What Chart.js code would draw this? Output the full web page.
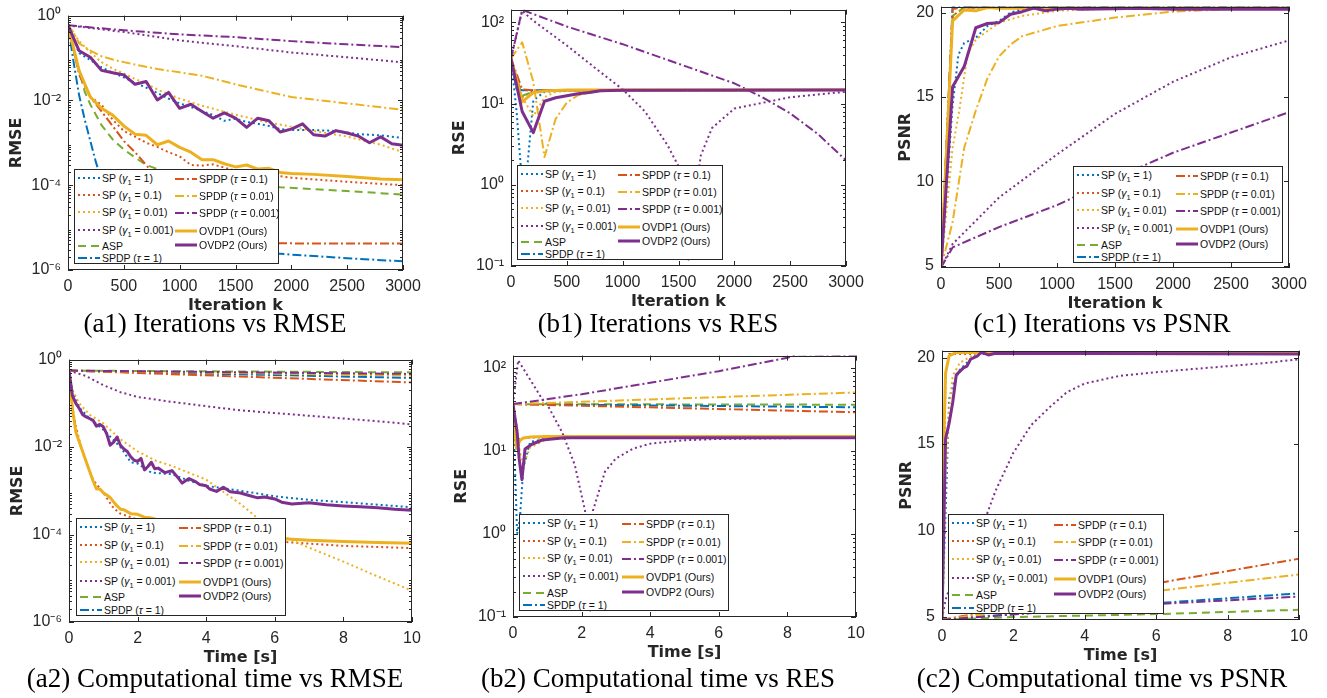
<!DOCTYPE html>
<html>
<head>
<meta charset="utf-8">
<script src="https://cdn.jsdelivr.net/npm/chart.js@4.4.1/dist/chart.umd.min.js"></script>
<style>
    body { margin: 0; width: 1327px; height: 698px; overflow: hidden; position: relative; background: #fff; font-family: 'Liberation Sans', Arial, sans-serif; }
    .panel { position: absolute; }
    .legend { position: absolute; background: #fff; border: 1px solid #262626; box-sizing: border-box; font-size: 10.5px; color: #111; z-index: 2; }
    .item { position: absolute; white-space: nowrap; height: 12px; line-height: 12px; display: flex; align-items: center; }
    .item svg { margin-right: 2px; flex: none; }
    .item sub { font-size: 7.5px; vertical-align: -3px; line-height: 0; }
    .caption { position: absolute; font-family: 'Liberation Serif', 'Times New Roman', serif; font-size: 27px; line-height: 27px; white-space: nowrap; transform: translateX(-50%); color: #000; }
</style>
</head>
<body>
<script>
// ---- tick labels / axis values ----
var iterTicks = [0, 500, 1000, 1500, 2000, 2500, 3000];
var timeTicks = [0, 2, 4, 6, 8, 10];
var rmseTicks = [1e-6, 1e-4, 1e-2, 1];
var rseTicks = [0.1, 1, 10, 100];
var psnrTicks = [5, 10, 15, 20];

// ---- series (legend order) ----
var seriesNames = ['SP (γ1 = 1)', 'SP (γ1 = 0.1)', 'SP (γ1 = 0.01)', 'SP (γ1 = 0.001)', 'ASP', 'SPDP (τ = 1)',
    'SPDP (τ = 0.1)', 'SPDP (τ = 0.01)', 'SPDP (τ = 0.001)', 'OVDP1 (Ours)', 'OVDP2 (Ours)'];
var seriesHtml = ['SP (<i>γ</i><sub>1</sub> = 1)', 'SP (<i>γ</i><sub>1</sub> = 0.1)', 'SP (<i>γ</i><sub>1</sub> = 0.01)',
    'SP (<i>γ</i><sub>1</sub> = 0.001)', 'ASP', 'SPDP (<i>τ</i> = 1)', 'SPDP (<i>τ</i> = 0.1)', 'SPDP (<i>τ</i> = 0.01)',
    'SPDP (<i>τ</i> = 0.001)', 'OVDP1 (Ours)', 'OVDP2 (Ours)'];
var seriesColors = ['#0072BD', '#D95319', '#EDB120', '#7E2F8E', '#77AC30', '#0072BD', '#D95319', '#EDB120', '#7E2F8E', '#EDB120', '#7E2F8E'];
var seriesStyles = ['dot', 'dot', 'dot', 'dot', 'dash', 'dashdot', 'dashdot', 'dashdot', 'dashdot', 'solid', 'solid'];

// ---- (a1) RMSE vs iteration ----
var a1_sp1 = [[0,.59],[100,.13],[200,.09],[300,.06],[400,.045],[500,.035],[600,.026],[700,.02],[800,.015],[900,.011],[1000,.0085],[1100,.007],[1200,.0056],[1300,.0045],[1400,.0033],[1500,.0037],[1600,.0031],[1700,.0028],[1800,.0025],[1900,.0021],[2000,.002],[2200,.002],[2400,.0019],[2600,.0016],[2800,.0015],[3000,.0013]];
var a1_sp01 = [[0,.59],[100,.05],[200,.012],[300,.0079],[400,.0035],[500,.0019],[600,.0014],[700,.001],[800,.0008],[900,.0006],[1000,.00048],[1100,.0003],[1200,.00029],[1300,.00031],[1400,.00026],[1500,.00022],[1700,.00019],[2000,.00015],[2500,.00012],[3000,.0001]];
var a1_sp001 = [[0,.59],[100,.25],[200,.135],[300,.08],[400,.056],[500,.043],[600,.032],[700,.025],[800,.018],[900,.014],[1000,.011],[1200,.0075],[1500,.0046],[1800,.003],[2000,.0024],[2200,.0019],[2500,.0014],[2800,.0009],[3000,.0006]];
var a1_sp0001 = [[0,.59],[500,.41],[1000,.26],[1500,.19],[2000,.135],[2500,.104],[3000,.079]];
var a1_asp = [[0,.59],[50,.15],[100,.05],[150,.016],[200,.008],[300,.0026],[400,.0012],[500,.0007],[600,.00045],[700,.0003],[800,.00024],[1000,.00018],[1500,.00012],[1900,.00009],[2500,.000073],[3000,.00006]];
var a1_spdp1 = [[0,.59],[50,.08],[100,.013],[150,.0035],[200,.0011],[250,.00035],[300,.00013],[400,.00004],[600,.000015],[1000,.000006],[1400,.0000035],[1800,.0000025],[2500,.0000019],[3000,.0000016]];
var a1_spdp01 = [[0,.59],[100,.04],[200,.012],[300,.0055],[400,.0025],[500,.0011],[600,.0006],[700,.0003],[800,.00014],[1000,.00004],[1200,.000015],[1500,.000006],[1800,.0000043],[2200,.0000042],[3000,.0000042]];
var a1_spdp001 = [[0,.59],[50,.4],[100,.22],[200,.15],[300,.11],[400,.092],[500,.08],[600,.07],[800,.055],[1000,.046],[1200,.038],[1500,.024],[2000,.012],[2500,.0085],[3000,.006]];
var a1_spdp0001 = [[0,.59],[500,.45],[1000,.36],[1500,.31],[2000,.25],[2500,.21],[3000,.18]];
var a1_ovdp1 = [[0,.59],[100,.05],[200,.012],[300,.0065],[400,.0045],[500,.0025],[600,.0016],[700,.0015],[800,.0009],[900,.0011],[1000,.00078],[1100,.0006],[1200,.0004],[1300,.0004],[1400,.00032],[1500,.00027],[1600,.0003],[1700,.00024],[1800,.00025],[1900,.0002],[2000,.00019],[2200,.00018],[2500,.00016],[2800,.00014],[3000,.000135]];
var a1_ovdp2 = [[0,.59],[100,.148],[200,.104],[300,.051],[400,.045],[500,.04],[600,.024],[700,.028],[800,.0102],[900,.0154],[1000,.0065],[1100,.0081],[1200,.0055],[1300,.0038],[1400,.0051],[1500,.0038],[1600,.0023],[1700,.0038],[1800,.0033],[1900,.0018],[2000,.0021],[2100,.0028],[2200,.00155],[2300,.00144],[2400,.00194],[2500,.0017],[2600,.00144],[2700,.001],[2800,.00138],[2900,.00095],[3000,.00087]];

// ---- (b1) RSE vs iteration ----
var b1_sp1 = [[0,36],[50,8],[100,1.0],[150,1.9],[200,11],[300,14],[500,14.5],[3000,14.7]];
var b1_sp01 = [[0,36],[50,18],[100,12],[200,14.3],[300,14.6],[3000,14.7]];
var b1_sp001 = [[0,36],[100,12],[200,7],[300,12],[400,14],[600,14.6],[3000,14.7]];
var b1_sp0001 = [[0,36],[100,139],[200,105],[500,52],[800,24.5],[1000,15],[1200,8],[1400,3.1],[1500,1.7],[1550,0.5],[1590,0.12],[1640,0.6],[1700,2.3],[1800,5],[2000,8.7],[2500,12],[3000,14]];
var b1_asp = [[0,36],[100,12.5],[200,14],[300,14.6],[3000,14.7]];
var b1_spdp1 = [[0,36],[50,15],[100,14.6],[3000,14.7]];
var b1_spdp01 = [[0,36],[100,15],[200,14.6],[3000,14.7]];
var b1_spdp001 = [[0,36],[100,57],[200,18.5],[300,2.2],[400,6.5],[500,10.3],[600,12.7],[700,13.6],[800,14.2],[1000,14.6],[3000,14.7]];
var b1_spdp0001 = [[0,36],[100,143],[500,89],[1000,54],[1500,31],[2000,17.8],[2250,12],[2500,7.6],[2750,4.2],[3000,2.0]];
var b1_ovdp1 = [[0,36],[100,10.5],[200,13.7],[300,14.3],[500,14.7],[3000,14.8]];
var b1_ovdp2 = [[0,36],[100,8],[200,4.4],[300,10.7],[400,11.8],[500,12.5],[600,13.2],[700,13.7],[800,14.4],[1000,14.6],[3000,14.7]];

// ---- (c1) PSNR vs iteration ----
var c1_sp1 = [[0,4.9],[100,14.5],[150,17.5],[200,18.2],[300,18.5],[400,19.2],[500,19.5],[600,20],[700,20.2],[3000,20.25]];
var c1_sp01 = [[0,4.9],[100,19.8],[200,20.3],[3000,20.3]];
var c1_sp001 = [[0,4.9],[100,12],[160,14.3],[230,17.6],[300,18.4],[500,19.4],[700,19.8],[1000,20.1],[1500,20.25],[3000,20.25]];
var c1_sp0001 = [[0,4.9],[100,6.3],[500,9.05],[1000,11.6],[1500,14.0],[2000,15.9],[2500,17.35],[3000,18.35]];
var c1_asp = [[0,4.9],[100,19.8],[200,20.3],[3000,20.3]];
var c1_spdp1 = [[0,4.9],[100,20.35],[3000,20.35]];
var c1_spdp01 = [[0,4.9],[100,20.2],[200,20.3],[3000,20.3]];
var c1_spdp001 = [[0,4.9],[100,7.6],[200,12],[300,14.2],[400,16.1],[500,17.4],[600,18.1],[700,18.6],[1000,19.2],[1500,19.7],[2000,20.05],[2500,20.2],[3000,20.25]];
var c1_spdp0001 = [[0,4.9],[100,6.1],[500,7.3],[1000,8.6],[1500,10.2],[2000,11.7],[2500,12.9],[3000,14.1]];
var c1_ovdp1 = [[0,4.9],[100,19.5],[200,20.15],[300,20.1],[400,20.3],[500,20.25],[3000,20.25]];
var c1_ovdp2 = [[0,4.9],[100,15.6],[200,16.8],[300,19.1],[400,19.35],[500,19.4],[600,19.9],[700,20.05],[800,20.27],[900,20.1],[1000,20.2],[1100,20.25],[1200,20.2],[1500,20.22],[1700,20.25],[2000,20.2],[3000,20.2]];

// ---- (a2) RMSE vs time ----
var a2_sp1 = [[0,.56],[0.1,.2],[0.3,.08],[0.6,.045],[1,.025],[1.5,.01],[1.8,.0045],[2,.0042],[2.4,.0026],[3,.0024],[3.5,.0017],[4,.0013],[5,.001],[6,.00075],[7,.00062],[8,.00055],[9,.00048],[10,.00042]];
var a2_sp01 = [[0,.56],[0.1,.08],[0.2,.03],[0.35,.01],[0.5,.0045],[0.7,.0018],[1,.0009],[1.3,.0004],[1.5,.0003],[2,.00022],[3,.00015],[4,.00011],[5,.00009],[6,.00007],[8,.000055],[10,.000049]];
var a2_sp001 = [[0,.56],[0.1,.2],[0.3,.1],[0.6,.055],[1,.035],[1.5,.015],[2,.008],[2.5,.005],[3,.0037],[4,.0018],[5,.0005],[6,.00011],[7,.00005],[8,.000024],[9,.000011],[10,.0000052]];
var a2_sp0001 = [[0,.56],[0.5,.42],[1,.26],[1.5,.18],[2,.14],[3,.108],[4,.086],[5,.069],[6,.06],[7,.052],[8,.045],[9,.039],[10,.033]];
var a2_asp = [[0,.56],[10,.51]];
var a2_spdp1 = [[0,.56],[10,.38]];
var a2_spdp01 = [[0,.56],[10,.3]];
var a2_spdp001 = [[0,.56],[10,.43]];
var a2_spdp0001 = [[0,.56],[10,.47]];
var a2_ovdp1 = [[0,.56],[0.1,.076],[0.2,.022],[0.3,.013],[0.5,.0047],[0.7,.0017],[0.8,.0011],[0.9,.0011],[1,.0009],[1.1,.0008],[1.2,.0007],[1.4,.00045],[1.5,.00038],[1.6,.00037],[1.8,.0003],[2,.00029],[2.2,.00025],[2.4,.00024],[3,.00017],[4,.00012],[5,.000095],[6,.000082],[7,.000074],[8,.000069],[9,.000066],[10,.000063]];
var a2_ovdp2 = [[0,.56],[0.1,.15],[0.2,.1],[0.3,.076],[0.4,.055],[0.5,.049],[0.7,.041],[0.8,.03],[0.9,.033],[1,.029],[1.1,.02],[1.2,.011],[1.3,.013],[1.4,.017],[1.5,.011],[1.6,.009],[1.7,.0079],[1.8,.006],[1.9,.005],[2,.0047],[2.1,.0055],[2.2,.003],[2.3,.0036],[2.4,.0045],[2.5,.0032],[2.6,.0033],[2.8,.0026],[3,.0029],[3.2,.0019],[3.3,.0015],[3.5,.0019],[3.7,.0016],[3.8,.0014],[4,.0013],[4.1,.0011],[4.3,.00097],[4.5,.0012],[4.7,.00095],[5,.00089],[5.2,.0008],[5.5,.00069],[5.7,.00072],[6,.00065],[6.2,.00055],[6.5,.0005],[7,.00053],[7.5,.00048],[8,.00045],[8.5,.00043],[9,.00041],[9.5,.00038],[10,.00036]];

// ---- (b2) RSE vs time ----
var b2_sp1 = [[0,36.5],[0.05,8],[0.12,1.0],[0.2,1.5],[0.3,6.2],[0.5,12.8],[1,14],[2,14.4],[10,14.4]];
var b2_sp01 = [[0,36.5],[0.1,12],[0.2,14],[0.5,14.5],[10,14.5]];
var b2_sp001 = [[0,36.5],[0.1,22],[0.2,9.7],[0.3,6.7],[0.5,11],[1,13.8],[2,14.4],[10,14.4]];
var b2_sp0001 = [[0,36.5],[0.15,123],[0.5,72],[0.85,42],[1,36],[1.43,16.8],[1.8,6.8],[2.1,1.9],[2.2,0.4],[2.25,0.12],[2.3,0.5],[2.33,1.9],[2.68,5.6],[3,8.1],[3.5,10.6],[4,12.2],[5,13.4],[6,13.9],[8,14.2],[10,14.4]];
var b2_asp = [[0,36.5],[10,35.9]];
var b2_spdp1 = [[0,36.5],[10,33.4]];
var b2_spdp01 = [[0,36.5],[10,29.1]];
var b2_spdp001 = [[0,36.5],[10,50.4]];
var b2_spdp0001 = [[0,36.5],[2,48],[4,66],[6,91],[8,132],[8.3,145],[10,142]];
var b2_ovdp1 = [[0,36.5],[0.1,10.6],[0.2,13.3],[0.3,14.3],[0.5,14.7],[1,14.9],[10,14.9]];
var b2_ovdp2 = [[0,36.5],[0.12,16.8],[0.18,8],[0.26,4.5],[0.35,10.5],[0.55,12],[0.85,13.5],[1.5,14.4],[10,14.4]];

// ---- (c2) PSNR vs time ----
var c2_sp1 = [[0,4.9],[0.1,11],[0.2,17.6],[0.3,18.4],[0.5,19.3],[0.8,19.9],[1,20.2],[10,20.25]];
var c2_sp01 = [[0,4.9],[0.1,19],[0.2,20.2],[10,20.25]];
var c2_sp001 = [[0,4.9],[0.1,13],[0.2,17],[0.3,18.95],[0.5,19.7],[1,20.3],[10,20.3]];
var c2_sp0001 = [[0,4.9],[0.1,6],[0.2,6.6],[0.5,7.9],[1,10.1],[1.25,10.9],[1.5,12.3],[2,14.5],[2.5,16.1],[3,17.1],[3.5,18],[4,18.5],[5,18.95],[6,19.15],[7,19.33],[8,19.5],[9,19.67],[10,19.9]];
var c2_asp = [[0,4.85],[2,5.0],[6,5.17],[10,5.42]];
var c2_spdp1 = [[0,4.85],[6,5.8],[10,6.37]];
var c2_spdp01 = [[0,4.85],[6,6.95],[10,8.37]];
var c2_spdp001 = [[0,4.85],[6,6.5],[10,7.46]];
var c2_spdp0001 = [[0,4.85],[6,5.75],[10,6.18]];
var c2_ovdp1 = [[0,4.9],[0.05,15.1],[0.1,19.1],[0.2,20.1],[0.4,20.3],[10,20.25]];
var c2_ovdp2 = [[0,4.9],[0.1,15.3],[0.2,16.2],[0.3,17.4],[0.4,19],[0.6,19.4],[0.7,19.5],[0.8,19.9],[1,20.1],[1.1,20.3],[1.3,20.15],[1.5,20.25],[10,20.2]];

// line style lookup
var lineStyles = {
    dot: { dash: [2, 3], width: 2 },
    dash: { dash: [8, 5], width: 2 },
    dashdot: { dash: [9, 3, 2, 3], width: 2 },
    solid: { dash: [], width: 3 }
};

var tickFont = "'Liberation Sans', Arial, sans-serif";
var titleFont = "'DejaVu Sans', sans-serif";
var axisColor = '#262626';
var SUP = { '-': '⁻', '0': '⁰', '1': '¹', '2': '²', '3': '³', '4': '⁴', '5': '⁵', '6': '⁶' };

// panel layout: chart area [left, top, right, bottom], legend box [left, top, w, h]
var panels = [
    { ca: [68, 13, 403, 270], yW: 62, xMax: 3000, xTicks: iterTicks, yType: 'logarithmic', yMin: 1e-6, yMax: 1, yTicks: rmseTicks,
      xTitle: 'Iteration k', yTitle: 'RMSE', legend: [74, 169, 205, 95], caption: '(a1) Iterations vs RMSE', capX: 215, capY: 310,
      series: [a1_sp1, a1_sp01, a1_sp001, a1_sp0001, a1_asp, a1_spdp1, a1_spdp01, a1_spdp001, a1_spdp0001, a1_ovdp1, a1_ovdp2] },
    { ca: [511, 7, 846, 266], yW: 62, xMax: 3000, xTicks: iterTicks, yType: 'logarithmic', yMin: 0.1, yMax: 144, yTicks: rseTicks,
      xTitle: 'Iteration k', yTitle: 'RSE', legend: [517, 165, 206, 95], caption: '(b1) Iterations vs RES', capX: 658, capY: 310,
      series: [b1_sp1, b1_sp01, b1_sp001, b1_sp0001, b1_asp, b1_spdp1, b1_spdp01, b1_spdp001, b1_spdp0001, b1_ovdp1, b1_ovdp2] },
    { ca: [941, 4, 1289, 268], yW: 46, xMax: 3000, xTicks: iterTicks, yType: 'linear', yMin: 4.88, yMax: 20.35, yTicks: psnrTicks,
      xTitle: 'Iteration k', yTitle: 'PSNR', legend: [1073, 166, 210, 97], caption: '(c1) Iterations vs PSNR', capX: 1102, capY: 310,
      series: [c1_sp1, c1_sp01, c1_sp001, c1_sp0001, c1_asp, c1_spdp1, c1_spdp01, c1_spdp001, c1_spdp0001, c1_ovdp1, c1_ovdp2] },
    { ca: [69, 357, 412, 622], yW: 62, xMax: 10, xTicks: timeTicks, yType: 'logarithmic', yMin: 1e-6, yMax: 1, yTicks: rmseTicks,
      xTitle: 'Time [s]', yTitle: 'RMSE', legend: [76, 518, 210, 98], caption: '(a2) Computational time vs RMSE', capX: 215, capY: 665,
      series: [a2_sp1, a2_sp01, a2_sp001, a2_sp0001, a2_asp, a2_spdp1, a2_spdp01, a2_spdp001, a2_spdp0001, a2_ovdp1, a2_ovdp2] },
    { ca: [513, 353, 856, 617], yW: 62, xMax: 10, xTicks: timeTicks, yType: 'logarithmic', yMin: 0.1, yMax: 140, yTicks: rseTicks,
      xTitle: 'Time [s]', yTitle: 'RSE', legend: [519, 514, 210, 97], caption: '(b2) Computational time vs RES', capX: 658, capY: 665,
      series: [b2_sp1, b2_sp01, b2_sp001, b2_sp0001, b2_asp, b2_spdp1, b2_spdp01, b2_spdp001, b2_spdp0001, b2_ovdp1, b2_ovdp2] },
    { ca: [942, 348, 1299, 620], yW: 46, xMax: 10, xTicks: timeTicks, yType: 'linear', yMin: 4.83, yMax: 20.4, yTicks: psnrTicks,
      xTitle: 'Time [s]', yTitle: 'PSNR', legend: [948, 514, 216, 100], caption: '(c2) Computational time vs PSNR', capX: 1102, capY: 665,
      series: [c2_sp1, c2_sp01, c2_sp001, c2_sp0001, c2_asp, c2_spdp1, c2_spdp01, c2_spdp001, c2_spdp0001, c2_ovdp1, c2_ovdp2] }
];

var padTop = 14, padRight = 26, xH = 48;

// legend slots (relative to a 205 x 95 box)
var col1Rows = [9, 26, 43, 61, 77, 89];
var col2Rows = [10, 27, 44, 62, 76];

function logLabel(v) {
    var e = String(Math.round(Math.log10(v)));
    return '10' + e.split('').map(function(c) { return SUP[c]; }).join('');
}

// MATLAB style box with inward ticks
var boxPlugin = {
    id: 'matlabBox',
    afterDatasetsDraw: function(chart) {
        var ctx = chart.ctx, a = chart.chartArea, xs = chart.scales.x, ys = chart.scales.y;
        ctx.save();
        ctx.strokeStyle = axisColor;
        ctx.lineWidth = 1;
        ctx.setLineDash([]);
        ctx.strokeRect(Math.round(a.left) + 0.5, Math.round(a.top) + 0.5, Math.round(a.right - a.left) - 1, Math.round(a.bottom - a.top) - 1);
        ctx.beginPath();
        xs.ticks.forEach(function(t) {
            var px = Math.round(xs.getPixelForValue(t.value)) + 0.5;
            ctx.moveTo(px, a.bottom); ctx.lineTo(px, a.bottom - 5);
            ctx.moveTo(px, a.top); ctx.lineTo(px, a.top + 5);
        });
        ys.ticks.forEach(function(t) {
            var py = Math.round(ys.getPixelForValue(t.value)) + 0.5;
            ctx.moveTo(a.left, py); ctx.lineTo(a.left + 5, py);
            ctx.moveTo(a.right, py); ctx.lineTo(a.right - 5, py);
        });
        if (ys.type === 'logarithmic') {
            var e0 = Math.floor(Math.log10(ys.min)), e1 = Math.ceil(Math.log10(ys.max));
            for (var e = e0; e <= e1; e++) {
                for (var k = 2; k <= 9; k++) {
                    var v = k * Math.pow(10, e);
                    if (v <= ys.min || v >= ys.max) continue;
                    var py = Math.round(ys.getPixelForValue(v)) + 0.5;
                    ctx.moveTo(a.left, py); ctx.lineTo(a.left + 3, py);
                    ctx.moveTo(a.right, py); ctx.lineTo(a.right - 3, py);
                }
            }
        }
        ctx.stroke();
        ctx.restore();
    }
};

function makeDatasets(list) {
    return list.map(function(pts, i) {
        var st = lineStyles[seriesStyles[i]];
        return {
            label: seriesNames[i],
            data: pts.map(function(p) { return { x: p[0], y: p[1] }; }),
            borderColor: seriesColors[i],
            borderWidth: st.width,
            borderDash: st.dash,
            borderCapStyle: 'butt',
            borderJoinStyle: 'round',
            pointRadius: 0,
            fill: false,
            tension: 0,
            order: list.length - i
        };
    });
}

function sampleSvg(i) {
    var st = lineStyles[seriesStyles[i]];
    return '<svg width="22" height="6"><line x1="0" y1="3" x2="22" y2="3" stroke="' + seriesColors[i] +
        '" stroke-width="' + st.width + '" stroke-dasharray="' + (st.dash.length ? st.dash.join(',') : 'none') + '"/></svg>';
}

function buildLegend(p) {
    var box = document.createElement('div');
    box.className = 'legend';
    box.style.left = p.legend[0] + 'px';
    box.style.top = p.legend[1] + 'px';
    box.style.width = p.legend[2] + 'px';
    box.style.height = p.legend[3] + 'px';
    var sx = p.legend[2] / 205, sy = p.legend[3] / 95;
    for (var i = 0; i < seriesNames.length; i++) {
        var col = i < 6 ? 0 : 1;
        var yc = col === 0 ? col1Rows[i] : col2Rows[i - 6];
        var item = document.createElement('div');
        item.className = 'item';
        item.style.left = Math.round((col === 0 ? 3 : 100) * sx) + 'px';
        item.style.top = Math.round(yc * sy - 7) + 'px';
        item.innerHTML = sampleSvg(i) + '<span>' + seriesHtml[i] + '</span>';
        box.appendChild(item);
    }
    document.body.appendChild(box);
}

panels.forEach(function(p) {
    var L = p.ca[0], T = p.ca[1], R = p.ca[2], B = p.ca[3];
    var w = (R - L) + p.yW + padRight, h = (B - T) + padTop + xH;
    var div = document.createElement('div');
    div.className = 'panel';
    div.style.left = (L - p.yW) + 'px';
    div.style.top = (T - padTop) + 'px';
    var canvas = document.createElement('canvas');
    canvas.width = w; canvas.height = h;
    canvas.style.width = w + 'px'; canvas.style.height = h + 'px';
    div.appendChild(canvas);
    document.body.appendChild(div);

    new Chart(canvas.getContext('2d'), {
        type: 'line',
        data: { datasets: makeDatasets(p.series) },
        options: {
            responsive: false,
            animation: false,
            devicePixelRatio: 1,
            layout: { padding: { top: padTop, right: padRight, left: 0, bottom: 0 } },
            plugins: { legend: { display: false }, tooltip: { enabled: false } },
            scales: {
                x: {
                    type: 'linear', min: 0, max: p.xMax,
                    afterBuildTicks: function(s) { s.ticks = p.xTicks.map(function(v) { return { value: v }; }); },
                    afterFit: function(s) { s.height = xH; },
                    grid: { display: false, drawTicks: false },
                    border: { display: false },
                    ticks: {
                        autoSkip: false, maxRotation: 0, padding: 7, color: axisColor, font: { family: tickFont, size: 16 },
                        callback: function(v) { return String(v); }
                    },
                    title: { display: true, text: p.xTitle, color: axisColor, font: { family: titleFont, size: 16, weight: 'bold' }, padding: { top: 0, bottom: 3 } }
                },
                y: {
                    type: p.yType, min: p.yMin, max: p.yMax,
                    afterBuildTicks: function(s) { s.ticks = p.yTicks.map(function(v) { return { value: v }; }); },
                    afterFit: function(s) { s.width = p.yW; },
                    grid: { display: false, drawTicks: false },
                    border: { display: false },
                    ticks: {
                        autoSkip: false, padding: 7, color: axisColor, font: { family: tickFont, size: 16 },
                        callback: function(v) { return p.yType === 'logarithmic' ? logLabel(v) : String(v); }
                    },
                    title: { display: true, text: p.yTitle, color: axisColor, font: { family: titleFont, size: 16, weight: 'bold' }, padding: { top: 1, bottom: 0 } }
                }
            }
        },
        plugins: [boxPlugin]
    });

    buildLegend(p);

    var cap = document.createElement('div');
    cap.className = 'caption';
    cap.style.left = p.capX + 'px';
    cap.style.top = p.capY + 'px';
    cap.textContent = p.caption;
    document.body.appendChild(cap);
});

if (typeof Chart === 'undefined') {
    console.warn('Chart.js not loaded. Charts will not render.');
}
</script>
</body>
</html>
